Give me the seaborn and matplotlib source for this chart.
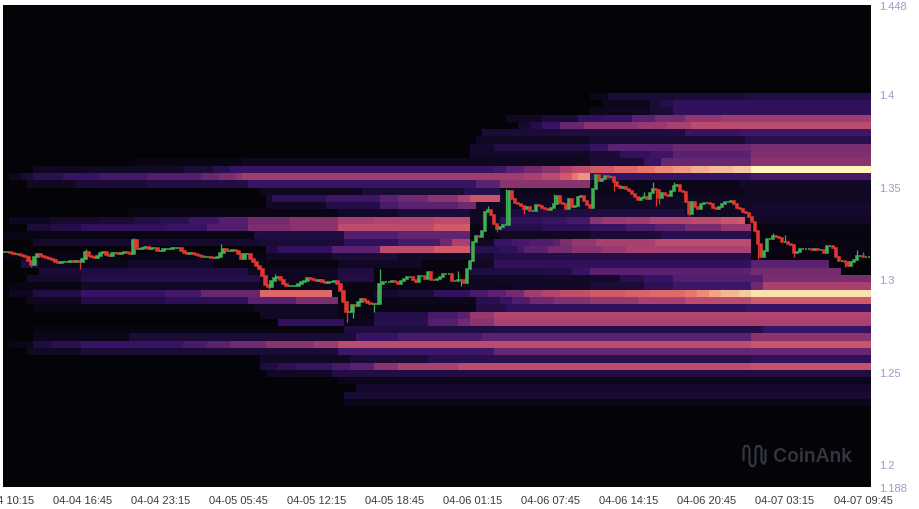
import numpy as np
import pandas as pd
import matplotlib
matplotlib.use("Agg")
import matplotlib.pyplot as plt
import seaborn as sns

# ======================
# data
# ======================
time_labels = ["04-04 10:15", "04-04 16:45", "04-04 23:15", "04-05 05:45", "04-05 12:15", "04-05 18:45",
               "04-06 01:15", "04-06 07:45", "04-06 14:15", "04-06 20:45", "04-07 03:15", "04-07 09:45"]
price_ticks = [1.188, 1.2, 1.25, 1.3, 1.35, 1.4, 1.448]
price_labels = ["1.188", "1.2", "1.25", "1.3", "1.35", "1.4", "1.448"]

# 15 minute closes, one candle opens where the previous one closed
closes = [
    1.3146, 1.3146, 1.3141, 1.3136, 1.3136, 1.3130, 1.3125, 1.3119, 1.3098, 1.3076,
    1.3119, 1.3136, 1.3125, 1.3119, 1.3114, 1.3109, 1.3103, 1.3092, 1.3087, 1.3092,
    1.3092, 1.3092, 1.3098, 1.3092, 1.3098, 1.3092, 1.3109, 1.3146, 1.3125, 1.3119,
    1.3114, 1.3125, 1.3141, 1.3146, 1.3130, 1.3125, 1.3141, 1.3141, 1.3136, 1.3141,
    1.3146, 1.3141, 1.3136, 1.3211, 1.3163, 1.3163, 1.3168, 1.3173, 1.3163,
    1.3168, 1.3168, 1.3152, 1.3152, 1.3163, 1.3163, 1.3163, 1.3168, 1.3168, 1.3168,
    1.3152, 1.3141, 1.3136, 1.3141, 1.3136, 1.3130, 1.3125, 1.3119, 1.3119, 1.3119,
    1.3114, 1.3114, 1.3119, 1.3141, 1.3163, 1.3152, 1.3152, 1.3157, 1.3152, 1.3136,
    1.3109, 1.3136, 1.3136, 1.3109, 1.3092, 1.3071, 1.3054, 1.3016, 1.2968, 1.2957,
    1.2989, 1.3005, 1.3011, 1.2995, 1.2973, 1.2962, 1.2962, 1.2962, 1.2962, 1.2973,
    1.2984, 1.2989, 1.3005, 1.3000, 1.2995, 1.2989, 1.2995, 1.2984, 1.2978, 1.2984,
    1.2984, 1.2989, 1.2973, 1.2935, 1.2876, 1.2822, 1.2822, 1.2860, 1.2854, 1.2876,
    1.2892, 1.2881, 1.2870, 1.2865, 1.2865, 1.2865, 1.2973, 1.2984, 1.2984, 1.2984,
    1.2989, 1.2984, 1.2973, 1.2989, 1.3000, 1.3011, 1.3011, 1.2995, 1.2984, 1.3016,
    1.3016, 1.3000, 1.3038, 1.2995, 1.2995, 1.3000, 1.3011, 1.3027, 1.3027, 1.3027,
    1.2989, 1.2989, 1.2995, 1.2995, 1.2978, 1.3054, 1.3098,
    1.3200, 1.3233, 1.3227, 1.3260, 1.3363, 1.3373, 1.3346, 1.3298, 1.3271, 1.3281,
    1.3292, 1.3292, 1.3476, 1.3433, 1.3411, 1.3406, 1.3395, 1.3379, 1.3390, 1.3368,
    1.3368, 1.3400, 1.3395, 1.3384, 1.3379, 1.3373, 1.3384, 1.3406, 1.3449, 1.3411,
    1.3406, 1.3379, 1.3433, 1.3390, 1.3395, 1.3444, 1.3449, 1.3422, 1.3400, 1.3384,
    1.3487, 1.3563,
    1.3530, 1.3541, 1.3557, 1.3552, 1.3552, 1.3525, 1.3503, 1.3492, 1.3498, 1.3487,
    1.3476, 1.3460, 1.3444, 1.3428, 1.3438, 1.3444, 1.3433, 1.3465, 1.3487, 1.3482,
    1.3438, 1.3465, 1.3455, 1.3449, 1.3476, 1.3503, 1.3509, 1.3476, 1.3471, 1.3417,
    1.3352, 1.3417, 1.3390, 1.3379, 1.3406, 1.3411, 1.3411, 1.3406, 1.3384, 1.3379,
    1.3390, 1.3406, 1.3417, 1.3417, 1.3422, 1.3406, 1.3384, 1.3379, 1.3363, 1.3357,
    1.3336, 1.3309, 1.3260, 1.3190, 1.3119,
    1.3152, 1.3217, 1.3217, 1.3233, 1.3227, 1.3222, 1.3200, 1.3200, 1.3190, 1.3184,
    1.3141, 1.3146, 1.3163, 1.3163, 1.3163, 1.3163, 1.3157, 1.3163, 1.3157, 1.3157,
    1.3141, 1.3179, 1.3179, 1.3168, 1.3119, 1.3098, 1.3098, 1.3092, 1.3071, 1.3092,
    1.3103, 1.3125, 1.3125, 1.3119, 1.3119, 1.3119,
]

# the longer wicks only, small ones are not readable
high_index = [27, 43, 72, 90, 119, 125, 151, 161, 167, 183, 213, 216, 223, 256, 260, 284, 286]
high_price = [1.3163, 1.3222, 1.3190, 1.3027, 1.2897, 1.3054, 1.3043, 1.3395, 1.3487, 1.3460,
              1.3471, 1.3525, 1.3525, 1.3249, 1.3238, 1.3157, 1.3146]
low_index = [9, 25, 88, 114, 116, 123, 152, 164, 173, 203, 217, 218, 228, 251, 263, 280]
low_price = [1.3065, 1.3054, 1.2946, 1.2768, 1.2789, 1.2822, 1.2962, 1.3255, 1.3352, 1.3476,
             1.3395, 1.3406, 1.3341, 1.3109, 1.3119, 1.3065]

# heat per price row, top row first: (hour the level starts, level 0-1), it holds until the next step
top_empty_rows = 12
row_steps = [
    [(49, .04), (50.5, .1), (62, .14)],
    [(50, .04), (54, .1), (55, .14), (55.8, .18)],
    [(49, .05), (54, .1), (55.8, .18)],
    [(42, .06), (45, .1), (48, .18), (50, .2), (52.4, .3), (54.5, .37), (56.9, .44), (60, .47)],
    [(43, .08), (44, .13), (45.2, .2), (46.6, .33), (48.6, .42), (53, .46), (55.5, .5), (57.4, .55)],
    [(40, .1), (46.3, .12), (56.9, .2), (61.6, .22)],
    [(39.7, .06), (49.1, .1), (61.9, .15)],
    [(39, .08), (41, .14), (49.1, .2), (50.5, .3), (56, .34), (62.4, .38)],
    [(39.1, .07), (49.1, .1), (51.3, .18), (54, .22), (55.8, .3), (62.7, .4)],
    [(11, .03), (20, .05), (49.1, .1), (53.6, .2), (55.2, .33), (62.7, .42)],
    [(2.7, .05), (7, .06), (10.7, .07), (15, .1), (17.7, .15), (19, .2), (41, .24), (42, .3), (43.5, .36),
     (45, .42), (46.3, .5), (47.5, .55), (49, .6), (51, .65), (53, .7), (54.7, .76), (56, .8), (57.4, .84),
     (59, .87), (61, .9), (62.7, 1.0)],
    [(.5, .05), (1.5, .1), (2.4, .16), (5, .2), (8, .24), (12, .28), (16.3, .33), (18, .38), (19.3, .43),
     (20.2, .48), (43.6, .5), (45, .54), (46.3, .6), (47.4, .7), (48, .78), (49, .2), (62.7, .25)],
    [(2, .06), (6, .1), (12, .13), (20.5, .2), (39.7, .3), (41.6, .42), (49, .04), (61.6, .07)],
    [(21.3, .05), (30, .1), (38.5, .15), (41.6, .04), (62, .06)],
    [(21.9, .08), (22.7, .17), (27, .22), (31.3, .3), (33, .35), (35.7, .42), (38, .5), (38.8, .58), (41.6, .06)],
    [(21.9, .06), (27, .14), (31.3, .25), (33, .3), (38, .35), (39.7, .06), (62.7, .08)],
    [(10.7, .03), (28, .07), (33, .1), (39, .05), (41.9, .12), (56.9, .06), (62.7, .08)],
    [(.5, .05), (4, .08), (8, .1), (11, .13), (13, .15), (15.7, .22), (18, .28), (20.5, .36), (24, .42),
     (28.2, .5), (31, .52), (36, .55), (39, .06), (41.3, .18), (45, .2), (47, .24), (49.1, .42), (50, .46),
     (51.9, .48), (54, .52), (57.4, .55), (60, .58), (61.6, .6), (61.9, .06)],
    [(2, .1), (4, .14), (6.6, .18), (13.5, .2), (17, .27), (20.5, .38), (24, .42), (28.2, .55), (36, .6),
     (38.8, .03), (41.3, .14), (45, .17), (49.1, .2), (52, .25), (54.7, .3), (57, .37), (60.2, .45), (62.4, .03)],
    [(.2, .03), (21, .12), (28.5, .28), (33, .32), (38.8, .03), (41.6, .06), (48.8, .1), (55.2, .15), (62.4, .02)],
    [(2.4, .08), (21.6, .1), (28.5, .18), (33, .25), (36.5, .35), (37.5, .5), (39, .06), (41, .2), (42.5, .24),
     (44, .27), (45.8, .3), (46.6, .38), (47.4, .45), (49.7, .5), (54.7, .55), (62.4, .02)],
    [(21.9, .12), (23.2, .18), (27.4, .3), (31.3, .55), (36, .6), (39.1, .15), (41.6, .18), (43, .24), (43.6, .3),
     (45.5, .37), (47.7, .42), (50, .46), (51.9, .5), (62.4, .03)],
    [(0, .03), (21.9, .06), (27.4, .1), (33, .06), (39.4, .08), (40.8, .14), (62.7, .02)],
    [(1.5, .12), (3, .04), (10.7, .07), (17.7, .02), (28.2, .06), (35, .02), (38.8, .06), (41, .18),
     (62.7, .3), (69.2, 0)],
    [(3, .1), (6.6, .12), (20.5, .05), (28.2, .12), (31, .02), (39.1, .12), (45, .14), (47.5, .2), (49.1, .3),
     (62.7, .36), (70.2, 0)],
    [(2, .08), (6.6, .14), (21.3, .05), (28.2, .13), (31, .02), (38.8, .06), (41, .07), (49.1, .08),
     (51.3, .15), (53.6, .2), (55.8, .28), (63.6, .38)],
    [(.5, .03), (6.6, .07), (21.6, .04), (28.2, .03), (38.8, .05), (42.7, .07), (49.1, .1), (53.6, .17),
     (55.8, .22), (62.7, .35), (63.6, .5)],
    [(.5, .05), (2.4, .13), (6.6, .2), (13.5, .24), (16.3, .33), (21.6, .65), (27.7, .02), (31, .08),
     (33, .1), (36, .18), (38.8, .25), (40.5, .3), (41.9, .36), (43.6, .48), (45, .52), (46.3, .56), (49, .6),
     (51.9, .63), (54, .66), (56.9, .7), (58, .76), (59, .82), (60.2, .86), (61.5, .9), (62.7, .95)],
    [(2, .05), (6.6, .14), (13.5, .17), (20.5, .3), (24.6, .38), (28.2, .02), (31, .04), (39.7, .15),
     (41.6, .2), (42.7, .27), (43.8, .35), (46, .4), (49.1, .45), (53, .5), (56.9, .55), (62.7, .6)],
    [(2.4, .03), (21, .06), (28.2, .03), (39.7, .14), (42.2, .18), (61.9, .2)],
    [(21.6, .06), (28.2, .03), (31, .14), (35.7, .25), (38, .3), (39, .45), (40.8, .52)],
    [(23, .18), (28.4, .04), (31, .15), (35.7, .28), (38, .35), (39, .42), (40.8, .5)],
    [(2.4, .02), (28.4, .12), (41, .14), (63.6, .2)],
    [(2.7, .04), (10.7, .1), (29.4, .2), (33, .25), (40, .3), (62.7, .42)],
    [(.7, .04), (2.4, .12), (4, .16), (6.6, .2), (15, .25), (17, .3), (19, .35), (22, .42), (26, .47),
     (28.2, .55), (62.7, .58)],
    [(2.1, .06), (6.6, .1), (28.2, .22), (41, .33)],
    [(21.6, .06), (28.8, .1), (35.7, .15), (62.7, .18)],
    [(21.6, .12), (23, .17), (24.6, .2), (27.4, .25), (29, .3), (31, .42), (33, .5), (38, .55), (62.7, .57)],
    [(21.9, .06), (27.4, .13)],
    [(28.2, .04)],
    [(29.4, .08)],
    [(28.4, .09)],
    [(28.4, .04)],
]

# ======================
# layout
# ======================
WIDTH, HEIGHT = 920, 510
LEFT, RIGHT, TOP, BOTTOM = 3, 871, 6.2, 487.6
N_ROWS, N_COLS = 66, 145
PX_PER_HOUR = 12.008
FIRST_TICK_X = 4.45

sns.set_theme(style="white")
plt.rcParams["font.family"] = ["Liberation Sans", "DejaVu Sans"]

heat_cmap = sns.blend_palette(["#030308", "#1a0b38", "#361363", "#5a2170", "#82316f", "#a93f70",
                               "#d05a6a", "#e8756a", "#f09a80", "#f5c9a0", "#fdf8ba"], as_cmap=True)


def build_matrix():
    matrix = np.zeros((N_ROWS, N_COLS))
    for r, steps in enumerate(row_steps):
        for hour, level in steps:
            matrix[top_empty_rows + r, int(round(hour * 2)):] = level
    return matrix


def draw_candles(ax):
    df = pd.DataFrame({"close": closes})
    df["open"] = df["close"].shift(1).fillna(df["close"].iloc[0])
    df["hour"] = df.index * 0.25
    up = df["close"] >= df["open"]
    df["color"] = np.where(up, "#3fae55", "#e2372f")

    for idx, price in zip(high_index, high_price):
        ax.vlines(df["hour"][idx], df[["open", "close"]].iloc[idx].max(), price,
                  color=df["color"][idx], lw=0.9, zorder=3)
    for idx, price in zip(low_index, low_price):
        ax.vlines(df["hour"][idx], price, df[["open", "close"]].iloc[idx].min(),
                  color=df["color"][idx], lw=0.9, zorder=3)

    ax.bar(df["hour"], (df["close"] - df["open"]).abs(), bottom=df[["open", "close"]].min(axis=1),
           width=0.2, color=df["color"], edgecolor=df["color"], linewidth=1.1, zorder=4)


def draw_watermark(fig):
    logo_x = [743.5, 743.5, 745, 748, 749.5, 749.5, 751, 754, 755.5, 755.5, 757, 760, 761.5, 761.5, 763.5, 765.5, 765.5]
    logo_y = [461, 450, 447, 447, 450, 464, 467, 467, 464, 450, 447, 447, 450, 462, 465, 462, 451]
    fig.add_artist(plt.Line2D([x / WIDTH for x in logo_x], [1 - y / HEIGHT for y in logo_y],
                              color="#34363f", lw=1.6, solid_joinstyle="round", solid_capstyle="round"))
    fig.text(773.5 / WIDTH, 1 - 457.5 / HEIGHT, "CoinAnk", color="#34363f", fontsize=13.8, fontweight="semibold",
             family=["Inter", "DejaVu Sans"], ha="left", va="center")


# ======================
# plot
# ======================
fig = plt.figure(figsize=(WIDTH / 100, HEIGHT / 100), dpi=100, facecolor="white")
rect = [LEFT / WIDTH, 1 - BOTTOM / HEIGHT, (RIGHT - LEFT) / WIDTH, (BOTTOM - TOP) / HEIGHT]

ax_heat = fig.add_axes(rect)
sns.heatmap(build_matrix(), ax=ax_heat, cmap=heat_cmap, vmin=0, vmax=1, cbar=False,
            xticklabels=False, yticklabels=False)

# price / time axes on top of the heatmap cells
ax = fig.add_axes(rect)
ax.patch.set_alpha(0)
draw_candles(ax)
ax.set_xlim((LEFT - FIRST_TICK_X) / PX_PER_HOUR, (RIGHT - FIRST_TICK_X) / PX_PER_HOUR)
ax.set_ylim(1.188, 1.448)
ax.set_xticks([i * 6.5 for i in range(len(time_labels))])
ax.set_xticklabels(time_labels, fontsize=8, color="#3c3c40")
ax.yaxis.tick_right()
ax.set_yticks(price_ticks)
ax.set_yticklabels(price_labels, fontsize=8, color="#9a9ac6")
ax.tick_params(axis="both", length=0)
ax.tick_params(axis="x", pad=6)
ax.tick_params(axis="y", pad=5.5)
sns.despine(ax=ax, left=True, right=True, top=True, bottom=True)

draw_watermark(fig)

fig.savefig("out.png", dpi=100, facecolor="white")
